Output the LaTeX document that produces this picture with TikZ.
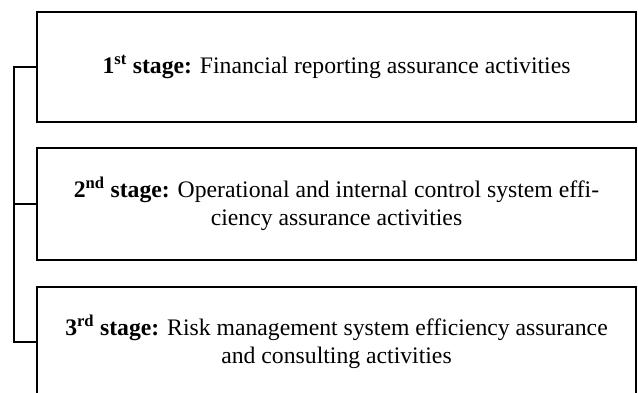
\documentclass[tikz,border=0pt]{standalone}
\usepackage{fontspec}
\setmainfont{Liberation Serif}
\begin{document}
\begin{tikzpicture}[x=1pt,y=-1pt,
  stagebox/.style={draw=black, line width=2pt, minimum width=599pt, inner sep=0pt, align=center,
    font=\fontsize{23.7}{28}\selectfont},
  link/.style={draw=black, line width=2pt}]
\useasboundingbox (0,0) rectangle (638,392);
\node[stagebox, minimum height=110pt] (s1) at (336.5,67) {\textbf{1\textsuperscript{st} stage:} Financial reporting assurance activities};
\node[stagebox, minimum height=112pt] (s2) at (336.5,204) {\textbf{2\textsuperscript{nd} stage:} Operational and internal control system effi-\\ciency assurance activities};
\node[stagebox, minimum height=110pt] (s3) at (336.5,342) {\textbf{3\textsuperscript{rd} stage:} Risk management system efficiency assurance\\and consulting activities};
\coordinate (b1) at (14,67);
\coordinate (b3) at (14,342);
\coordinate (b2) at (14,204);
\draw[link] (s1.west) -- (b1) -- (b3) -- (s3.west);
\draw[link] (b2) -- (s2.west);
\end{tikzpicture}
\end{document}
